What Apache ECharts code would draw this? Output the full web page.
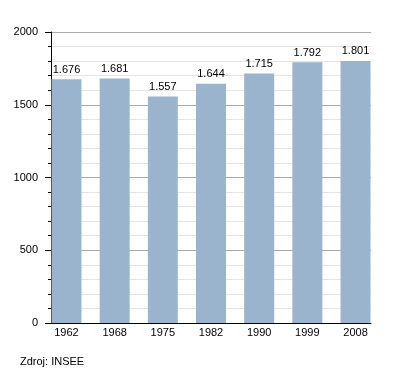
<!DOCTYPE html>
<html>
<head>
<meta charset="utf-8">
<script src="https://cdn.jsdelivr.net/npm/echarts@6/dist/echarts.min.js"></script>
<style>html,body{margin:0;padding:0;background:#fff}#c{width:400px;height:373px}</style>
</head>
<body>
<div id="c"></div>
<script>
var years = ['1962', '1968', '1975', '1982', '1990', '1999', '2008'];
var population = [1676, 1681, 1557, 1644, 1715, 1792, 1801];
var yTicks = [0, 500, 1000, 1500, 2000];
var sourceText = 'Zdroj: INSEE';

var font = '"Liberation Sans", Arial, sans-serif';
var idx = years.map(function (y, i) { return i; });
var chart = echarts.init(document.getElementById('c'), null, {renderer: 'canvas'});
chart.setOption({
  animation: false,
  textStyle: {fontFamily: font},
  grid: {left: 51, top: 32, width: 320, height: 291, containLabel: false},
  xAxis: {
    type: 'value', min: -0.3216, max: 6.3216,
    axisLine: {show: true, onZero: false, lineStyle: {color: '#000', width: 1}},
    axisTick: {show: false},
    splitLine: {show: false},
    axisLabel: {
      show: true, customValues: idx, margin: 4,
      color: '#000', fontSize: 11, fontFamily: font,
      formatter: function (v) { return years[Math.round(v)]; }
    }
  },
  yAxis: {
    type: 'value', min: yTicks[0], max: yTicks[yTicks.length - 1], interval: 500,
    axisLine: {show: true, onZero: false, lineStyle: {color: '#000', width: 1}},
    axisTick: {show: true, length: 6, lineStyle: {color: '#000'}},
    minorTick: {show: true, splitNumber: 5, length: 3, lineStyle: {color: '#000'}},
    splitLine: {show: true, lineStyle: {color: '#aaaaaa', width: 1}},
    minorSplitLine: {show: true, lineStyle: {color: '#e4e4e4', width: 1}},
    axisLabel: {color: '#000', fontSize: 11, fontFamily: font, margin: 13,
      formatter: function (v) { return String(v); }}
  },
  series: [{
    type: 'bar',
    barWidth: 30,
    data: population.map(function (v, i) { return [i, v]; }),
    itemStyle: {color: '#9bb4cd'},
    label: {
      show: true, position: 'top', distance: 4,
      color: '#000', fontSize: 11, fontFamily: font,
      formatter: function (p) {
        var v = p.value[1];
        return Math.floor(v / 1000) + '.' + String(v % 1000).padStart(3, '0');
      }
    }
  }],
  graphic: [{
    type: 'text', left: 20, top: 356,
    style: {text: sourceText, fill: '#000', font: '11px ' + font}
  }]
});
</script>
</body>
</html>
